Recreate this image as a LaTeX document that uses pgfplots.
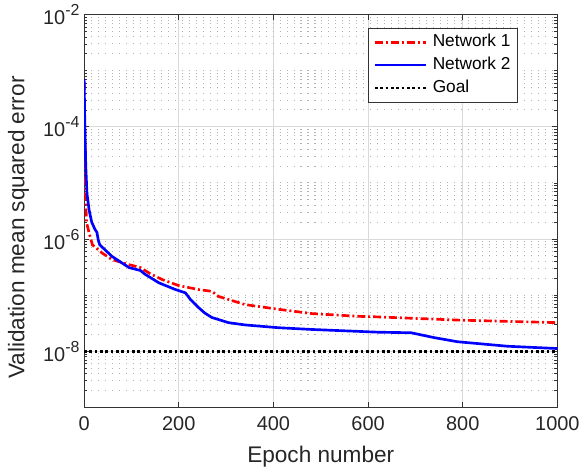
\documentclass[border=0pt]{standalone}
\usepackage{fontspec}
\setmainfont{Liberation Sans}
\usepackage{pgfplots}
\pgfplotsset{compat=1.18}
\definecolor{gridgray}{gray}{0.85}
\definecolor{mingray}{gray}{0.70}
\newcommand{\ex}[1]{10\raisebox{0.45em}{\fontsize{12}{12}\selectfont #1}}
\begin{document}
\begin{tikzpicture}
\begin{axis}[
  scale only axis,
  width=356pt, height=295.5pt,
  xmin=0, xmax=1000,
  ymode=log, ymin=1e-9, ymax=1e-2,
  xtick={0,200,400,600,800,1000},
  ytick={1e-8,1e-6,1e-4,1e-2},
  yticklabels={\ex{-8},\ex{-6},\ex{-4},\ex{-2}},
  minor ytick={2e-9,3e-9,4e-9,5e-9,6e-9,7e-9,8e-9,9e-9,
    2e-8,3e-8,4e-8,5e-8,6e-8,7e-8,8e-8,9e-8,1e-7,
    2e-7,3e-7,4e-7,5e-7,6e-7,7e-7,8e-7,9e-7,
    2e-6,3e-6,4e-6,5e-6,6e-6,7e-6,8e-6,9e-6,1e-5,
    2e-5,3e-5,4e-5,5e-5,6e-5,7e-5,8e-5,9e-5,
    2e-4,3e-4,4e-4,5e-4,6e-4,7e-4,8e-4,9e-4,1e-3,
    2e-3,3e-3,4e-3,5e-3,6e-3,7e-3,8e-3,9e-3},
  /pgf/number format/assume math mode=true,
  /pgf/number format/1000 sep={},
  tick label style={font=\fontsize{15}{17}\selectfont, text=black!85},
  xticklabel style={yshift=-3pt},
  label style={font=\fontsize{17}{20}\selectfont, text=black!85},
  xlabel={Epoch number},
  ylabel={Validation mean squared error},
  xlabel style={at={(axis description cs:0.5,-0.1396)}, anchor=base},
  ylabel style={at={(axis description cs:-0.099,0.458)}, anchor=south, inner xsep=0pt, inner ysep=6pt},
  xmajorgrids, ymajorgrids, yminorgrids,
  major grid style={gridgray, line width=0.6pt},
  minor grid style={mingray, line width=0.75pt, dash pattern=on 0.8pt off 4.45pt},
  tick align=inside,
  major tick length=4pt, minor tick length=2.2pt,
  every tick/.style={black!80, line width=0.5pt},
  axis line style={black!80, line width=0.6pt},
  legend style={at={(0.9158,0.967)}, anchor=north east, draw=black!80, line width=0.5pt,
    font=\fontsize{13}{15}\selectfont, row sep=2.75pt, column sep=3pt,
    inner xsep=4pt, inner ysep=3.5pt,
    nodes={inner sep=1pt, text height=9.5pt, text depth=3pt}},
  legend cell align=left,
  legend image post style={line width=2pt},
  legend image code/.code={\draw[#1, line width=2pt] (0cm,0cm) -- (1.35cm,0cm);},
]
\addplot[red, line width=2pt, dash pattern=on 6pt off 2.2pt on 1.5pt off 2.2pt] coordinates {
  (0,6.3e-4) (1,1.5e-4) (2,3.2e-5) (3,6.3e-6) (5,2.0e-6) (10.5,1.29e-6) (17.5,7.9e-7)
  (38.5,5.6e-7) (59,4.3e-7) (95,3.5e-7) (119,3.1e-7) (140,2.4e-7) (165,1.9e-7)
  (200,1.48e-7) (242,1.26e-7) (270,1.17e-7) (284,9.5e-8) (340,6.8e-8) (411,5.6e-8)
  (481,4.7e-8) (579,4.2e-8) (621,4.1e-8) (789,3.6e-8) (1000,3.24e-8)};
\addlegendentry{Network 1\hspace{5pt}}
\addplot[blue, line width=2pt] coordinates {
  (0,7.1e-4) (1.5,1e-4) (3.5,1.95e-5) (6,6.5e-6) (10.5,3.3e-6) (16,2.0e-6) (23,1.48e-6)
  (27,1.32e-6) (30,9.5e-7) (33,7.9e-7) (59,4.9e-7) (95,3.1e-7) (119,2.75e-7)
  (129,2.35e-7) (158,1.66e-7) (193,1.26e-7) (214,1.10e-7) (225,8.3e-8) (242,6.0e-8)
  (255,4.8e-8) (270,4.0e-8) (305,3.24e-8) (340,2.95e-8) (411,2.63e-8) (481,2.45e-8)
  (621,2.19e-8) (691,2.14e-8) (740,1.75e-8) (789,1.48e-8) (895,1.23e-8) (1000,1.12e-8)};
\addlegendentry{Network 2\hspace{5pt}}
\addplot[black, line width=2pt, dotted] coordinates {(0,1e-8) (1000,1e-8)};
\addlegendentry{Goal}
\end{axis}
\end{tikzpicture}
\end{document}
